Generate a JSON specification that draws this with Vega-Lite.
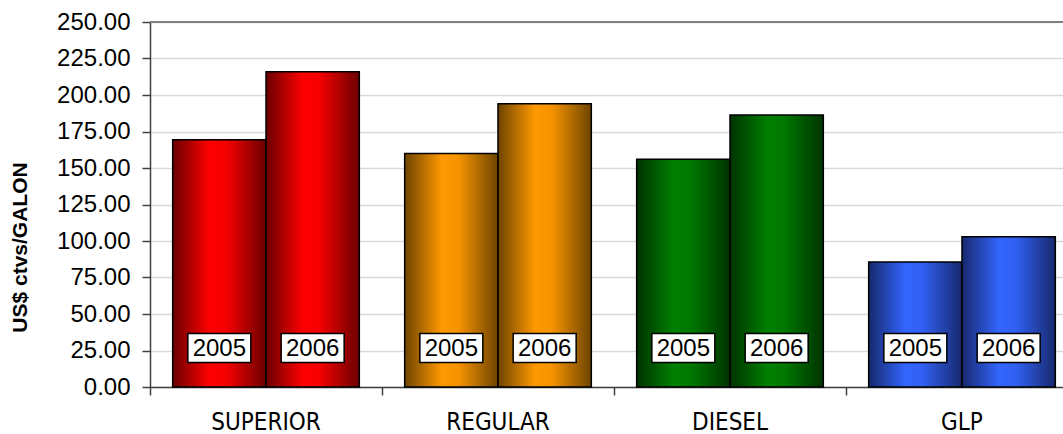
{
  "$schema": "https://vega.github.io/schema/vega-lite/v6.json",
  "autosize": {"type": "none"},
  "padding": {"left": 150, "top": 22, "right": 0, "bottom": 47},
  "width": 913,
  "height": 365,
  "background": "white",
  "config": {"view": {"stroke": null}},
  "data": {
    "values": [
      {"producto": "SUPERIOR", "anio": "2005", "precio": 169.3},
      {"producto": "SUPERIOR", "anio": "2006", "precio": 216.0},
      {"producto": "REGULAR", "anio": "2005", "precio": 160.0},
      {"producto": "REGULAR", "anio": "2006", "precio": 194.0},
      {"producto": "DIESEL", "anio": "2005", "precio": 156.0},
      {"producto": "DIESEL", "anio": "2006", "precio": 186.3},
      {"producto": "GLP", "anio": "2005", "precio": 85.7},
      {"producto": "GLP", "anio": "2006", "precio": 102.9}
    ]
  },
  "encoding": {
    "x": {
      "field": "producto",
      "type": "nominal",
      "scale": {"type": "band", "domain": ["SUPERIOR", "REGULAR", "DIESEL", "GLP"], "paddingInner": 0, "paddingOuter": 0, "range": [0, 928]},
      "axis": {
        "title": null,
        "labelAngle": 0,
        "bandPosition": 0,
        "domainColor": "#404040",
        "domainWidth": 1.5,
        "tickColor": "#404040",
        "tickWidth": 1.5,
        "tickSize": 8,
        "labelFont": "DejaVu Sans Condensed",
        "labelFontSize": 24,
        "labelColor": "#000000",
        "labelPadding": 15,
        "grid": false
      }
    },
    "xOffset": {
      "field": "anio",
      "type": "nominal",
      "scale": {"paddingInner": 0, "paddingOuter": 0.243}
    },
    "y": {
      "field": "precio",
      "type": "quantitative",
      "scale": {"domain": [0, 250], "nice": false},
      "axis": {
        "title": "US$ ctvs/GALON",
        "titleFont": "Liberation Sans",
        "titleFontWeight": "bold",
        "titleFontSize": 21,
        "titleColor": "#000000",
        "titleX": -130,
        "titleY": 225,
        "titleAlign": "center",
        "titleBaseline": "middle",
        "titleAngle": -90,
        "values": [0, 25, 50, 75, 100, 125, 150, 175, 200, 225, 250],
        "format": ".2f",
        "labelOverlap": false,
        "labelFont": "Liberation Sans",
        "labelFontSize": 24,
        "labelColor": "#000000",
        "labelPadding": 12,
        "tickSize": 8,
        "tickColor": "#404040",
        "tickWidth": 1.5,
        "domainColor": "#404040",
        "domainWidth": 1.5,
        "grid": true,
        "gridColor": "#d9d9d9",
        "gridWidth": 1.5
      }
    }
  },
  "layer": [
    {
      "mark": {"type": "rule", "color": "#808080", "strokeWidth": 2},
      "encoding": {"y": {"datum": 250, "type": "quantitative"}, "x": null, "xOffset": null}
    },
    {
      "transform": [{"filter": "datum.producto === 'SUPERIOR'"}],
      "mark": {"type": "bar", "stroke": "#000000", "strokeWidth": 1.5,
        "fill": {"gradient": "linear", "x1": 0, "x2": 1, "y1": 0, "y2": 0,
          "stops": [{"offset": 0, "color": "#6a0000"}, {"offset": 0.4, "color": "#ff0000"}, {"offset": 0.58, "color": "#f40000"}, {"offset": 1, "color": "#6a0000"}]}}
    },
    {
      "transform": [{"filter": "datum.producto === 'REGULAR'"}],
      "mark": {"type": "bar", "stroke": "#000000", "strokeWidth": 1.5,
        "fill": {"gradient": "linear", "x1": 0, "x2": 1, "y1": 0, "y2": 0,
          "stops": [{"offset": 0, "color": "#6e4400"}, {"offset": 0.4, "color": "#ff9900"}, {"offset": 0.58, "color": "#f59300"}, {"offset": 1, "color": "#6e4400"}]}}
    },
    {
      "transform": [{"filter": "datum.producto === 'DIESEL'"}],
      "mark": {"type": "bar", "stroke": "#000000", "strokeWidth": 1.5,
        "fill": {"gradient": "linear", "x1": 0, "x2": 1, "y1": 0, "y2": 0,
          "stops": [{"offset": 0, "color": "#003300"}, {"offset": 0.4, "color": "#007f00"}, {"offset": 0.58, "color": "#007800"}, {"offset": 1, "color": "#003300"}]}}
    },
    {
      "transform": [{"filter": "datum.producto === 'GLP'"}],
      "mark": {"type": "bar", "stroke": "#000000", "strokeWidth": 1.5,
        "fill": {"gradient": "linear", "x1": 0, "x2": 1, "y1": 0, "y2": 0,
          "stops": [{"offset": 0, "color": "#17296e"}, {"offset": 0.4, "color": "#3366ff"}, {"offset": 0.58, "color": "#3160f2"}, {"offset": 1, "color": "#17296e"}]}}
    },
    {
      "mark": {"type": "point", "shape": "M-2.172,-1L2.172,-1L2.172,1L-2.172,1Z", "size": 841, "filled": true, "fill": "#ffffff", "stroke": "#000000", "strokeWidth": 1.5, "opacity": 1},
      "encoding": {"y": {"datum": 26.7, "type": "quantitative"}}
    },
    {
      "mark": {"type": "text", "font": "Liberation Sans", "fontSize": 24, "color": "#000000", "baseline": "middle", "align": "center", "dy": 1},
      "encoding": {
        "y": {"datum": 26.7, "type": "quantitative"},
        "text": {"field": "anio", "type": "nominal"}
      }
    }
  ]
}
